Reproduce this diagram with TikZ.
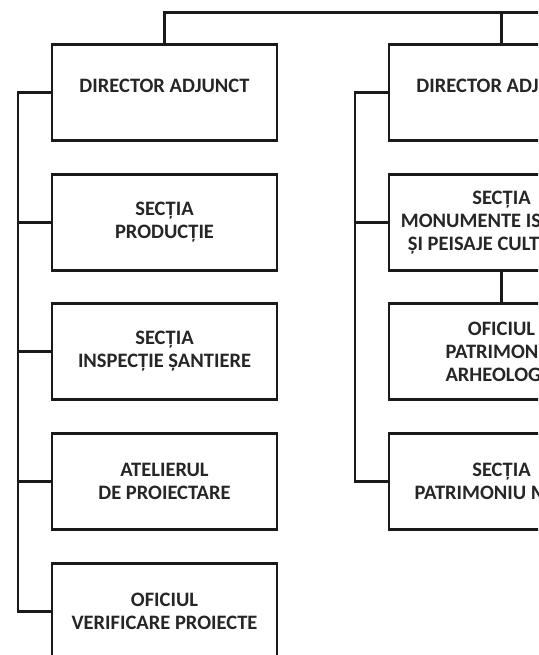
\documentclass[tikz,border=0pt]{standalone}
\usepackage{fontspec}
\setmainfont{Carlito}
\definecolor{ink}{HTML}{1A1A1A}
\definecolor{txt}{HTML}{262626}
\begin{document}
\begin{tikzpicture}[x=1pt,y=-1pt,
  box/.style={draw=ink, line width=2.2pt, fill=white, minimum width=225pt, minimum height=96pt,
    inner sep=0pt, align=center, font=\fontsize{20.5}{23}\selectfont\bfseries, text=txt},
  link/.style={draw=ink, line width=2.2pt}]
\useasboundingbox (0,0) rectangle (538,655);
\clip (0,0) rectangle (538,655);
% left column
\node[box] (l1) at (164.5,92.5) {\raisebox{0pt}[0pt][0pt]{DIRECTOR ADJUNCT}};
\node[box] (l2) at (164.5,222.5) {SECȚIA\\PRODUCȚIE};
\node[box] (l3) at (164.5,351.5) {SECȚIA\\INSPECȚIE ȘANTIERE};
\node[box] (l4) at (164.5,481.5) {ATELIERUL\\DE PROIECTARE};
\node[box] (l5) at (164.5,611.5) {OFICIUL\\VERIFICARE PROIECTE};
% right column
\node[box] (r1) at (501.5,92.5) {\raisebox{0pt}[0pt][0pt]{DIRECTOR ADJUNCT}};
\node[box] (r2) at (501.5,222.5) {SECȚIA\\MONUMENTE ISTORICE\\ȘI PEISAJE CULTURALE};
\node[box] (r3) at (501.5,351.5) {OFICIUL\\PATRIMONIU\\ARHEOLOGIC};
\node[box] (r4) at (501.5,481.5) {SECȚIA\\PATRIMONIU MOBIL};
% top connector
\coordinate (topend) at (560,12.5);
\draw[link] (l1.north) |- (topend);
\draw[link] (r1.north) -- (r1.north |- topend);
% left trunk
\coordinate (ltop) at (18,92.5);
\coordinate (lbot) at (18,611.5);
\draw[link] (l1.west) -- (ltop) -- (lbot) -- (l5.west);
\foreach \n in {l2,l3,l4} \draw[link] (\n.west) -- (\n.west -| ltop);
% right trunk
\coordinate (rtop) at (355,92.5);
\coordinate (rbot) at (355,481.5);
\draw[link] (r1.west) -- (rtop) -- (rbot) -- (r4.west);
\draw[link] (r2.west) -- (r2.west -| rtop);
\draw[link] (r2.south) -- (r3.north);
\end{tikzpicture}
\end{document}
